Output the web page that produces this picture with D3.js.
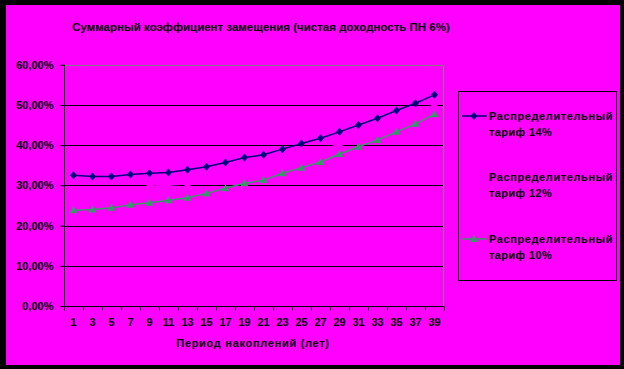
<!DOCTYPE html>
<html>
<head>
<meta charset="utf-8">
<script src="https://cdn.jsdelivr.net/npm/d3@7"></script>
<style>
  html, body { margin: 0; padding: 0; background: #000; }
  svg { display: block; }
  text { font-family: "Liberation Sans", Arial, sans-serif; font-weight: bold; fill: #000; }
</style>
</head>
<body>
<div id="chart"></div>
<script>
// Данные
const years = [1, 3, 5, 7, 9, 11, 13, 15, 17, 19, 21, 23, 25, 27, 29, 31, 33, 35, 37, 39];
const tariff14 = [32.5, 32.2, 32.2, 32.7, 33.0, 33.2, 33.9, 34.6, 35.7, 36.9, 37.6, 39.0, 40.4, 41.7, 43.3, 45.0, 46.7, 48.6, 50.4, 52.5];
const tariff12 = [28.2, 28.1, 28.3, 28.9, 29.8, 30.0, 30.4, 31.3, 32.5, 33.7, 34.5, 36.0, 37.4, 38.7, 40.2, 42.3, 44.0, 45.9, 47.8, 50.0];
const tariff10 = [23.8, 24.0, 24.4, 25.2, 25.7, 26.3, 26.9, 28.0, 29.3, 30.5, 31.3, 33.0, 34.4, 35.8, 37.8, 39.6, 41.3, 43.3, 45.3, 47.7];
const yTicks = [0, 10, 20, 30, 40, 50, 60];
const seriesNames = ['Распределительный тариф 14%', 'Распределительный тариф 12%', 'Распределительный тариф 10%'];

const W = 624, H = 369;
const plot = { left: 64, right: 444, top: 64.7, bottom: 306 };

const svg = d3.select('#chart').append('svg')
  .attr('width', W).attr('height', H);

// Фон
svg.append('rect').attr('width', W).attr('height', H).attr('fill', '#000');
svg.append('rect').attr('x', 6).attr('y', 5).attr('width', 614).attr('height', 360).attr('fill', '#ff00ff');

// Шкалы
const x = d3.scaleBand().domain(years).range([plot.left, plot.right]);
const y = d3.scaleLinear().domain([0, 60]).range([plot.bottom, plot.top]);

// Сетка
svg.append('g').selectAll('line')
  .data(yTicks.filter(d => d > 0 && d < 60))
  .join('line')
  .attr('x1', plot.left).attr('x2', plot.right)
  .attr('y1', d => Math.round(y(d)) + 0.5).attr('y2', d => Math.round(y(d)) + 0.5)
  .attr('stroke', '#000').attr('stroke-width', 1);

// Рамка области построения
svg.append('path')
  .attr('d', `M${plot.left},${Math.round(plot.top) + 0.5}H${plot.right - 0.5}V${plot.bottom}`)
  .attr('fill', 'none').attr('stroke', '#808080').attr('stroke-width', 1);

// Ось Y
const yAxis = svg.append('g')
  .attr('transform', `translate(${plot.left + 0.5},0)`)
  .call(d3.axisLeft(y).tickValues(yTicks).tickSize(4).tickPadding(7)
    .tickFormat(d => d.toFixed(2).replace('.', ',') + '%'));
yAxis.select('.domain').attr('stroke', '#000').attr('d', `M0,${plot.top}V${plot.bottom}`);
yAxis.selectAll('line').attr('stroke', '#000');
yAxis.selectAll('text').style('font-size', '11px').attr('fill', '#000');

// Ось X
const xAxis = svg.append('g')
  .attr('transform', `translate(0,${Math.round(plot.bottom) + 0.5})`)
  .call(d3.axisBottom(x).tickSize(0).tickPadding(12));
xAxis.select('.domain').remove();
xAxis.selectAll('text').style('font-size', '11px').attr('fill', '#000');
xAxis.append('line').attr('x1', plot.left).attr('x2', plot.right).attr('stroke', '#000');
xAxis.selectAll('.tickmark')
  .data(years.concat(['end']))
  .join('line')
  .attr('class', 'tickmark')
  .attr('x1', (d, i) => Math.round(plot.left + i * x.step()) + 0.5)
  .attr('x2', (d, i) => Math.round(plot.left + i * x.step()) + 0.5)
  .attr('y1', 0).attr('y2', 4)
  .attr('stroke', '#000');

// Заголовки
svg.append('text')
  .attr('x', 261).attr('y', 31)
  .attr('text-anchor', 'middle')
  .style('font-size', '11.5px')
  .text('Суммарный коэффициент замещения (чистая доходность ПН 6%)');

svg.append('text')
  .attr('x', 253).attr('y', 347)
  .attr('text-anchor', 'middle')
  .style('font-size', '11px')
  .style('letter-spacing', '0.7px')
  .text('Период накоплений (лет)');

// Серии
const markers = {
  diamond: 'M0,-4L3.5,0L0,4L-3.5,0Z',
  square: 'M-3,-3H3V3H-3Z',
  triangle: 'M0,-4L4,3L-4,3Z'
};
const series = [
  { name: seriesNames[0], values: tariff14, color: '#000080', marker: markers.diamond },
  { name: seriesNames[1], values: tariff12, color: '#ff00ff', marker: markers.square },
  { name: seriesNames[2], values: tariff10, color: '#339966', marker: markers.triangle }
];

const line = d3.line()
  .x((d, i) => x(years[i]) + x.bandwidth() / 2)
  .y(d => y(d));

series.forEach(s => {
  svg.append('path')
    .datum(s.values)
    .attr('fill', 'none')
    .attr('stroke', s.color)
    .attr('stroke-width', 1.5)
    .attr('d', line);
  svg.append('g').selectAll('path')
    .data(s.values)
    .join('path')
    .attr('d', s.marker)
    .attr('transform', (d, i) => `translate(${x(years[i]) + x.bandwidth() / 2},${y(d)})`)
    .attr('fill', s.color);
});

// Легенда
const legend = svg.append('g');
legend.append('rect')
  .attr('x', 458.5).attr('y', 91.5).attr('width', 158).attr('height', 189)
  .attr('fill', 'none').attr('stroke', '#000');

const legendY = [116, 177, 239];
series.forEach((s, i) => {
  const g = legend.append('g').attr('transform', `translate(0,${legendY[i]})`);
  g.append('line').attr('x1', 462).attr('x2', 487).attr('y1', 0).attr('y2', 0)
    .attr('stroke', s.color).attr('stroke-width', 1.5);
  g.append('path').attr('d', s.marker).attr('transform', 'translate(474,0)').attr('fill', s.color);
  const words = s.name.split(' ');
  g.append('text').attr('x', 489).attr('y', 4).style('font-size', '11px')
    .style('letter-spacing', '0.6px').text(words[0]);
  g.append('text').attr('x', 489).attr('y', 20).style('font-size', '11px')
    .style('letter-spacing', '0.4px').text(words.slice(1).join(' '));
});
</script>
</body>
</html>
